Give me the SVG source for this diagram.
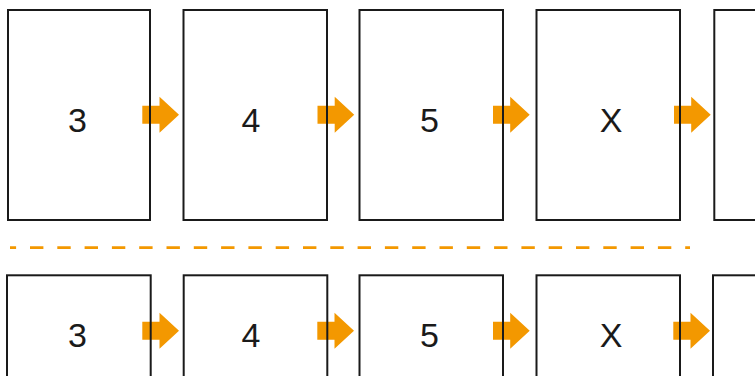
<svg xmlns="http://www.w3.org/2000/svg" width="755" height="376" viewBox="0 0 755 376">
<defs>
<style>
.box{fill:none;stroke:#1a1a1a;stroke-width:2}
.lbl{font-family:"Liberation Sans",Arial,sans-serif;font-size:34px;fill:#1a1a1a;text-anchor:middle}
.arr{fill:#f39800}
</style>
<polygon id="arrow" points="0,-9 17.2,-9 17.2,-18 36.7,0 17.2,18 17.2,9 0,9"/>
</defs>
<rect width="755" height="376" fill="#ffffff"/>
<g id="connectors">
<line x1="10" y1="247.7" x2="690" y2="247.7" stroke="#f39800" stroke-width="2.8" stroke-dasharray="13.4 13.9" stroke-dashoffset="7.3"/>
<use href="#arrow" class="arr" x="142.3" y="114.7"/>
<use href="#arrow" class="arr" x="317.5" y="114.7"/>
<use href="#arrow" class="arr" x="493" y="114.7"/>
<use href="#arrow" class="arr" x="674" y="114.7"/>
<use href="#arrow" class="arr" x="142.3" y="330.7"/>
<use href="#arrow" class="arr" x="317.3" y="330.7"/>
<use href="#arrow" class="arr" x="493" y="330.7"/>
<use href="#arrow" class="arr" x="673.3" y="330.7"/>
</g>
<g id="top-3"><rect class="box" x="8" y="10" width="142" height="210"/><text class="lbl" x="77.5" y="131.5">3</text></g>
<g id="top-4"><rect class="box" x="183.5" y="10" width="143.5" height="210"/><text class="lbl" x="251" y="131.5">4</text></g>
<g id="top-5"><rect class="box" x="359.5" y="10" width="143.5" height="210"/><text class="lbl" x="429.5" y="131.5">5</text></g>
<g id="top-x"><rect class="box" x="536.5" y="10" width="143.5" height="210"/><text class="lbl" x="611" y="131.5">X</text></g>
<g id="top-next"><rect class="box" x="714.3" y="10" width="143.5" height="210"/></g>
<g id="bot-3"><rect class="box" x="7" y="275.3" width="143.7" height="210"/><text class="lbl" x="77.5" y="346.5">3</text></g>
<g id="bot-4"><rect class="box" x="183.7" y="275.3" width="143.6" height="210"/><text class="lbl" x="251" y="346.5">4</text></g>
<g id="bot-5"><rect class="box" x="359.5" y="275.3" width="143.5" height="210"/><text class="lbl" x="429.5" y="346.5">5</text></g>
<g id="bot-x"><rect class="box" x="536.5" y="275.3" width="143.5" height="210"/><text class="lbl" x="611" y="346.5">X</text></g>
<g id="bot-next"><rect class="box" x="713" y="275.3" width="143.5" height="210"/></g>
</svg>
